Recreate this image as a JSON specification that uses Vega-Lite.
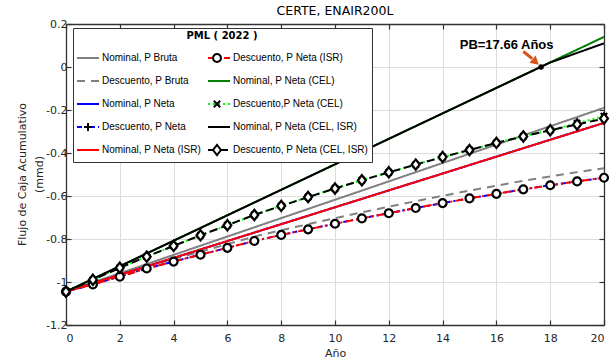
{
  "$schema": "https://vega.github.io/schema/vega-lite/v6.json",
  "width": 538,
  "height": 301,
  "autosize": {"type": "none"},
  "padding": {"left": 66, "top": 24, "right": 9, "bottom": 33},
  "title": {"text": "CERTE, ENAIR200L", "fontSize": 12.5, "font": "DejaVu Sans", "fontWeight": "normal", "color": "#000000", "offset": 1},
  "config": {
    "font": "DejaVu Sans",
    "view": {"stroke": null},
    "axis": {
      "domainColor": "#333333", "domainWidth": 1.3,
      "tickColor": "#333333", "tickSize": -5, "tickWidth": 1.2,
      "labelFont": "DejaVu Sans", "labelFontSize": 11, "labelColor": "#262626",
      "titleFont": "DejaVu Sans", "titleFontSize": 11, "titleFontWeight": "normal", "titleColor": "#262626",
      "gridColor": "#dddddd", "gridWidth": 1
    }
  },
  "datasets": {
    "lines": [
      {"series": "Nominal, P Bruta", "year": 0, "v": -1.045},
      {"series": "Nominal, P Bruta", "year": 20, "v": -0.19},
      {"series": "Descuento, P Bruta", "year": 0, "v": -1.045},
      {"series": "Descuento, P Bruta", "year": 1, "v": -1.008},
      {"series": "Descuento, P Bruta", "year": 2, "v": -0.969},
      {"series": "Descuento, P Bruta", "year": 3, "v": -0.928},
      {"series": "Descuento, P Bruta", "year": 4, "v": -0.893},
      {"series": "Descuento, P Bruta", "year": 5, "v": -0.859},
      {"series": "Descuento, P Bruta", "year": 6, "v": -0.824},
      {"series": "Descuento, P Bruta", "year": 7, "v": -0.789},
      {"series": "Descuento, P Bruta", "year": 8, "v": -0.759},
      {"series": "Descuento, P Bruta", "year": 9, "v": -0.731},
      {"series": "Descuento, P Bruta", "year": 10, "v": -0.703},
      {"series": "Descuento, P Bruta", "year": 11, "v": -0.676},
      {"series": "Descuento, P Bruta", "year": 12, "v": -0.65},
      {"series": "Descuento, P Bruta", "year": 13, "v": -0.624},
      {"series": "Descuento, P Bruta", "year": 14, "v": -0.599},
      {"series": "Descuento, P Bruta", "year": 15, "v": -0.575},
      {"series": "Descuento, P Bruta", "year": 16, "v": -0.552},
      {"series": "Descuento, P Bruta", "year": 17, "v": -0.529},
      {"series": "Descuento, P Bruta", "year": 18, "v": -0.509},
      {"series": "Descuento, P Bruta", "year": 19, "v": -0.489},
      {"series": "Descuento, P Bruta", "year": 20, "v": -0.471},
      {"series": "Nominal, P Neta", "year": 0, "v": -1.045},
      {"series": "Nominal, P Neta", "year": 20, "v": -0.26},
      {"series": "Descuento, P Neta", "year": 0, "v": -1.045},
      {"series": "Descuento, P Neta", "year": 1, "v": -1.011},
      {"series": "Descuento, P Neta", "year": 2, "v": -0.975},
      {"series": "Descuento, P Neta", "year": 3, "v": -0.937},
      {"series": "Descuento, P Neta", "year": 4, "v": -0.905},
      {"series": "Descuento, P Neta", "year": 5, "v": -0.873},
      {"series": "Descuento, P Neta", "year": 6, "v": -0.841},
      {"series": "Descuento, P Neta", "year": 7, "v": -0.809},
      {"series": "Descuento, P Neta", "year": 8, "v": -0.781},
      {"series": "Descuento, P Neta", "year": 9, "v": -0.755},
      {"series": "Descuento, P Neta", "year": 10, "v": -0.729},
      {"series": "Descuento, P Neta", "year": 11, "v": -0.704},
      {"series": "Descuento, P Neta", "year": 12, "v": -0.68},
      {"series": "Descuento, P Neta", "year": 13, "v": -0.656},
      {"series": "Descuento, P Neta", "year": 14, "v": -0.633},
      {"series": "Descuento, P Neta", "year": 15, "v": -0.611},
      {"series": "Descuento, P Neta", "year": 16, "v": -0.59},
      {"series": "Descuento, P Neta", "year": 17, "v": -0.569},
      {"series": "Descuento, P Neta", "year": 18, "v": -0.55},
      {"series": "Descuento, P Neta", "year": 19, "v": -0.532},
      {"series": "Descuento, P Neta", "year": 20, "v": -0.515},
      {"series": "Nominal, P Neta (ISR)", "year": 0, "v": -1.045},
      {"series": "Nominal, P Neta (ISR)", "year": 20, "v": -0.26},
      {"series": "Descuento, P Neta (ISR)", "year": 0, "v": -1.045},
      {"series": "Descuento, P Neta (ISR)", "year": 1, "v": -1.011},
      {"series": "Descuento, P Neta (ISR)", "year": 2, "v": -0.975},
      {"series": "Descuento, P Neta (ISR)", "year": 3, "v": -0.937},
      {"series": "Descuento, P Neta (ISR)", "year": 4, "v": -0.905},
      {"series": "Descuento, P Neta (ISR)", "year": 5, "v": -0.873},
      {"series": "Descuento, P Neta (ISR)", "year": 6, "v": -0.841},
      {"series": "Descuento, P Neta (ISR)", "year": 7, "v": -0.809},
      {"series": "Descuento, P Neta (ISR)", "year": 8, "v": -0.781},
      {"series": "Descuento, P Neta (ISR)", "year": 9, "v": -0.755},
      {"series": "Descuento, P Neta (ISR)", "year": 10, "v": -0.729},
      {"series": "Descuento, P Neta (ISR)", "year": 11, "v": -0.704},
      {"series": "Descuento, P Neta (ISR)", "year": 12, "v": -0.68},
      {"series": "Descuento, P Neta (ISR)", "year": 13, "v": -0.656},
      {"series": "Descuento, P Neta (ISR)", "year": 14, "v": -0.633},
      {"series": "Descuento, P Neta (ISR)", "year": 15, "v": -0.611},
      {"series": "Descuento, P Neta (ISR)", "year": 16, "v": -0.59},
      {"series": "Descuento, P Neta (ISR)", "year": 17, "v": -0.569},
      {"series": "Descuento, P Neta (ISR)", "year": 18, "v": -0.55},
      {"series": "Descuento, P Neta (ISR)", "year": 19, "v": -0.532},
      {"series": "Descuento, P Neta (ISR)", "year": 20, "v": -0.515},
      {"series": "Nominal, P Neta (CEL)", "year": 0, "v": -1.045},
      {"series": "Nominal, P Neta (CEL)", "year": 20, "v": 0.14},
      {"series": "Descuento,P Neta (CEL)", "year": 0, "v": -1.045},
      {"series": "Descuento,P Neta (CEL)", "year": 1, "v": -0.99},
      {"series": "Descuento,P Neta (CEL)", "year": 2, "v": -0.934},
      {"series": "Descuento,P Neta (CEL)", "year": 3, "v": -0.882},
      {"series": "Descuento,P Neta (CEL)", "year": 4, "v": -0.832},
      {"series": "Descuento,P Neta (CEL)", "year": 5, "v": -0.783},
      {"series": "Descuento,P Neta (CEL)", "year": 6, "v": -0.736},
      {"series": "Descuento,P Neta (CEL)", "year": 7, "v": -0.688},
      {"series": "Descuento,P Neta (CEL)", "year": 8, "v": -0.646},
      {"series": "Descuento,P Neta (CEL)", "year": 9, "v": -0.605},
      {"series": "Descuento,P Neta (CEL)", "year": 10, "v": -0.565},
      {"series": "Descuento,P Neta (CEL)", "year": 11, "v": -0.527},
      {"series": "Descuento,P Neta (CEL)", "year": 12, "v": -0.49},
      {"series": "Descuento,P Neta (CEL)", "year": 13, "v": -0.454},
      {"series": "Descuento,P Neta (CEL)", "year": 14, "v": -0.419},
      {"series": "Descuento,P Neta (CEL)", "year": 15, "v": -0.386},
      {"series": "Descuento,P Neta (CEL)", "year": 16, "v": -0.353},
      {"series": "Descuento,P Neta (CEL)", "year": 17, "v": -0.323},
      {"series": "Descuento,P Neta (CEL)", "year": 18, "v": -0.294},
      {"series": "Descuento,P Neta (CEL)", "year": 19, "v": -0.262},
      {"series": "Descuento,P Neta (CEL)", "year": 20, "v": -0.229},
      {"series": "Nominal, P Neta (CEL, ISR)", "year": 0, "v": -1.045},
      {"series": "Nominal, P Neta (CEL, ISR)", "year": 18, "v": 0.021},
      {"series": "Nominal, P Neta (CEL, ISR)", "year": 20, "v": 0.11},
      {"series": "Descuento, P Neta (CEL, ISR)", "year": 0, "v": -1.045},
      {"series": "Descuento, P Neta (CEL, ISR)", "year": 1, "v": -0.99},
      {"series": "Descuento, P Neta (CEL, ISR)", "year": 2, "v": -0.934},
      {"series": "Descuento, P Neta (CEL, ISR)", "year": 3, "v": -0.882},
      {"series": "Descuento, P Neta (CEL, ISR)", "year": 4, "v": -0.832},
      {"series": "Descuento, P Neta (CEL, ISR)", "year": 5, "v": -0.783},
      {"series": "Descuento, P Neta (CEL, ISR)", "year": 6, "v": -0.736},
      {"series": "Descuento, P Neta (CEL, ISR)", "year": 7, "v": -0.688},
      {"series": "Descuento, P Neta (CEL, ISR)", "year": 8, "v": -0.646},
      {"series": "Descuento, P Neta (CEL, ISR)", "year": 9, "v": -0.605},
      {"series": "Descuento, P Neta (CEL, ISR)", "year": 10, "v": -0.565},
      {"series": "Descuento, P Neta (CEL, ISR)", "year": 11, "v": -0.527},
      {"series": "Descuento, P Neta (CEL, ISR)", "year": 12, "v": -0.49},
      {"series": "Descuento, P Neta (CEL, ISR)", "year": 13, "v": -0.454},
      {"series": "Descuento, P Neta (CEL, ISR)", "year": 14, "v": -0.419},
      {"series": "Descuento, P Neta (CEL, ISR)", "year": 15, "v": -0.386},
      {"series": "Descuento, P Neta (CEL, ISR)", "year": 16, "v": -0.353},
      {"series": "Descuento, P Neta (CEL, ISR)", "year": 17, "v": -0.323},
      {"series": "Descuento, P Neta (CEL, ISR)", "year": 18, "v": -0.294},
      {"series": "Descuento, P Neta (CEL, ISR)", "year": 19, "v": -0.267},
      {"series": "Descuento, P Neta (CEL, ISR)", "year": 20, "v": -0.24}
    ],
    "pb": [{"year": 17.66, "v": 0}],
    "arrow": [{"x1": 17.0, "y1": 0.072, "x2": 17.33, "y2": 0.039}],
    "head": [{"x": 17.42, "y": 0.028}],
    "lbl": [{"x": 16.38, "y": 0.102, "label": "PB=17.66 Años"}]
  },
  "resolve": {"axis": {"x": "independent", "y": "independent"}},
  "layer": [
    {
      "data": {"name": "lines"},
      "mark": {"type": "line", "strokeWidth": 2},
      "encoding": {
        "x": {"field": "year", "type": "quantitative", "scale": {"domain": [0, 20], "nice": false},
          "axis": {"values": [0, 2, 4, 6, 8, 10, 12, 14, 16, 18, 20], "title": "Año", "grid": true, "labelPadding": 12, "titleY": 28, "titleBaseline": "middle"}},
        "y": {"field": "v", "type": "quantitative", "scale": {"domain": [-1.2, 0.2], "nice": false},
          "axis": {"values": [-1.2, -1, -0.8, -0.6, -0.4, -0.2, 0, 0.2], "labelExpr": "replace(format(datum.value, '~g'), '−', '-')", "title": ["Flujo de Caja Acumulativo", "(mmd)"], "grid": true, "labelPadding": 4, "titleX": -44, "titleY": 150, "titleAngle": -90, "titleBaseline": "middle", "titleAlign": "center", "titleLineHeight": 17}},
        "color": {"field": "series", "type": "nominal",
          "scale": {
            "domain": ["Nominal, P Bruta", "Descuento, P Bruta", "Nominal, P Neta", "Descuento, P Neta", "Nominal, P Neta (ISR)", "Descuento, P Neta (ISR)", "Nominal, P Neta (CEL)", "Descuento,P Neta (CEL)", "Nominal, P Neta (CEL, ISR)", "Descuento, P Neta (CEL, ISR)"],
            "range": ["#808080", "#808080", "#0000FF", "#0000FF", "#FF0000", "#FF0000", "#008000", "#00FF00", "#000000", "#000000"]
          },
          "legend": {
            "orient": "none", "legendX": 7, "legendY": 4, "columns": 2,
            "title": "PML ( 2022 )", "titleAnchor": "middle", "titleFont": "DejaVu Sans", "titleFontSize": 10, "titleFontWeight": "bold", "titleColor": "#000000", "titlePadding": 5,
            "labelFont": "Liberation Sans", "labelFontSize": 10, "labelColor": "#000000", "labelOffset": 2,
            "symbolSize": 484, "symbolStrokeWidth": 2,
            "strokeColor": "#333333", "fillColor": "#ffffff", "padding": 3,
            "columnPadding": 3, "rowPadding": 2,
            "encode": {"symbols": {"update": {"shape": {"value": "M-1,-0.45M1,0.45M-1,0H1"}, "fill": {"value": "transparent"}}}}
          }
        },
        "strokeDash": {"field": "series", "type": "nominal",
          "scale": {
            "domain": ["Nominal, P Bruta", "Descuento, P Bruta", "Nominal, P Neta", "Descuento, P Neta", "Nominal, P Neta (ISR)", "Descuento, P Neta (ISR)", "Nominal, P Neta (CEL)", "Descuento,P Neta (CEL)", "Nominal, P Neta (CEL, ISR)", "Descuento, P Neta (CEL, ISR)"],
            "range": [[1, 0], [8, 6], [1, 0], [5, 3, 2, 3], [1, 0], [8, 3, 2, 3], [1, 0], [2, 3], [1, 0], [8, 4]]
          }
        }
      }
    },
    {
      "data": {"name": "lines"},
      "mark": {"type": "point", "filled": true, "fill": "#ffffff", "stroke": "#000000", "strokeWidth": 2.2, "size": 484, "opacity": 1},
      "encoding": {
        "x": {"field": "year", "type": "quantitative", "axis": null},
        "y": {"field": "v", "type": "quantitative", "axis": null},
        "shape": {"field": "series", "type": "nominal",
          "sort": ["Nominal, P Bruta", "Descuento, P Bruta", "Nominal, P Neta", "Descuento, P Neta", "Nominal, P Neta (ISR)", "Descuento, P Neta (ISR)", "Nominal, P Neta (CEL)", "Descuento,P Neta (CEL)", "Nominal, P Neta (CEL, ISR)", "Descuento, P Neta (CEL, ISR)"],
          "scale": {"range": [
            "M-1,-0.45M1,0.45",
            "M-1,-0.45M1,0.45",
            "M-1,-0.45M1,0.45",
            "M-1,-0.45M1,0.45M-0.36,0H0.36M0,-0.36V0.36",
            "M-1,-0.45M1,0.45",
            "M-1,-0.45M1,0.45M0.36,0A0.36,0.36 0 1,1 -0.36,0A0.36,0.36 0 1,1 0.36,0Z",
            "M-1,-0.45M1,0.45",
            "M-1,-0.45M1,0.45M-0.29,-0.29L0.29,0.29M-0.29,0.29L0.29,-0.29",
            "M-1,-0.45M1,0.45",
            "M-1,-0.45M1,0.45M0,-0.47L0.36,0L0,0.47L-0.36,0Z"
          ]},
          "legend": {
            "orient": "none", "legendX": 7, "legendY": 4, "columns": 2,
            "title": " ", "titleFont": "DejaVu Sans", "titleFontSize": 10, "titleFontWeight": "bold", "titlePadding": 5,
            "labelExpr": "' '", "labelFont": "Liberation Sans", "labelFontSize": 10, "labelOffset": 2,
            "symbolSize": 484, "symbolStrokeWidth": 2,
            "padding": 3, "columnPadding": 99, "rowPadding": 2,
            "encode": {"symbols": {"update": {"stroke": {"value": "#000000"}, "fill": {"value": "#ffffff"}, "strokeWidth": {"value": 2}, "opacity": {"value": 1}}}}
          }
        }
      }
    },
    {
      "data": {"name": "arrow"},
      "mark": {"type": "rule", "color": "#D95319", "strokeWidth": 3},
      "encoding": {"x": {"field": "x1", "type": "quantitative", "axis": null}, "y": {"field": "y1", "type": "quantitative", "axis": null}, "x2": {"field": "x2"}, "y2": {"field": "y2"}}
    },
    {
      "data": {"name": "head"},
      "mark": {"type": "point", "shape": "triangle", "filled": true, "color": "#D95319", "size": 90, "angle": 132, "opacity": 1},
      "encoding": {"x": {"field": "x", "type": "quantitative", "axis": null}, "y": {"field": "y", "type": "quantitative", "axis": null}}
    },
    {
      "data": {"name": "lbl"},
      "mark": {"type": "text", "font": "Liberation Sans", "fontWeight": "bold", "fontSize": 13, "align": "center", "baseline": "middle", "color": "#000000"},
      "encoding": {"x": {"field": "x", "type": "quantitative", "axis": null}, "y": {"field": "y", "type": "quantitative", "axis": null}, "text": {"field": "label"}}
    },
    {
      "data": {"name": "pb"},
      "mark": {"type": "point", "shape": "circle", "filled": true, "color": "#000000", "size": 30, "opacity": 1},
      "encoding": {
        "x": {"field": "year", "type": "quantitative", "axis": {"orient": "top", "values": [0, 2, 4, 6, 8, 10, 12, 14, 16, 18, 20], "labels": false, "title": null, "grid": false}},
        "y": {"field": "v", "type": "quantitative", "axis": {"orient": "right", "values": [-1.2, -1, -0.8, -0.6, -0.4, -0.2, 0, 0.2], "labels": false, "title": null, "grid": false}}
      }
    }
  ]
}
